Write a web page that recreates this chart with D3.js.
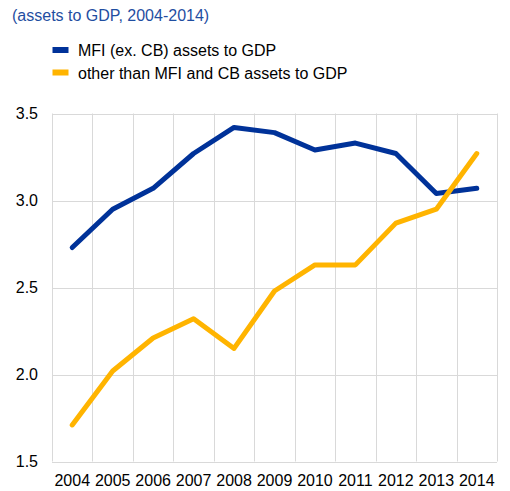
<!DOCTYPE html>
<html>
<head>
<meta charset="utf-8">
<script src="https://cdn.jsdelivr.net/npm/d3@7"></script>
<style>
  html, body { margin: 0; padding: 0; background: #fff; }
  svg { display: block; font-family: Arial, "Liberation Sans", sans-serif; }
</style>
</head>
<body>
<svg id="chart" width="510" height="491"></svg>
<script>
// Years on the x axis
const years = ["2004","2005","2006","2007","2008","2009","2010","2011","2012","2013","2014"];
// MFI (excluding central bank) assets to GDP
const mfiAssets = [2.73, 2.95, 3.07, 3.27, 3.42, 3.39, 3.29, 3.33, 3.27, 3.04, 3.07];
// Assets of sectors other than MFI and CB, relative to GDP
const otherAssets = [1.71, 2.02, 2.21, 2.32, 2.15, 2.48, 2.63, 2.63, 2.87, 2.95, 3.27];
// Y-axis ticks
const yTicks = [1.5, 2.0, 2.5, 3.0, 3.5];
const seriesNames = ["MFI (ex. CB) assets to GDP", "other than MFI and CB assets to GDP"];
const seriesColors = ["#003299", "#FFB400"];

const FONT = "Arial, 'Liberation Sans', sans-serif";
const svg = d3.select("#chart");
const plot = { left: 52, right: 497, top: 113.5, bottom: 461.5 };

const x = d3.scaleBand().domain(years).range([plot.left, plot.right]).padding(0);
const y = d3.scaleLinear().domain([1.5, 3.5]).range([plot.bottom, plot.top]);

// Title
svg.append("text")
  .attr("x", 12).attr("y", 21)
  .attr("font-size", 16).attr("fill", "#1f4ea1")
  .text("(assets to GDP, 2004-2014)");

// Legend
seriesNames.forEach((name, i) => {
  const ly = 50 + i * 22.5;
  svg.append("rect")
    .attr("x", 52.5).attr("y", ly - 3).attr("width", 16).attr("height", 6)
    .attr("fill", seriesColors[i]);
  svg.append("text")
    .attr("x", 78).attr("y", ly + 6)
    .attr("font-size", 16).attr("fill", "#000")
    .text(name);
});

// Grid: horizontal lines at each tick
const grid = svg.append("g").attr("stroke", "#d9d9d9").attr("stroke-width", 1);
yTicks.forEach(t => {
  grid.append("line")
    .attr("x1", plot.left).attr("x2", plot.right)
    .attr("y1", Math.round(y(t)) + 0.5).attr("y2", Math.round(y(t)) + 0.5);
});
// Vertical lines at the category boundaries
const bounds = years.map(d => x(d)).concat([x(years[years.length - 1]) + x.bandwidth()]);
bounds.forEach(bx => {
  grid.append("line")
    .attr("x1", Math.round(bx) + 0.5).attr("x2", Math.round(bx) + 0.5)
    .attr("y1", plot.top).attr("y2", plot.bottom);
});

// Y axis labels
const yAxis = d3.axisLeft(y).tickValues(yTicks).tickFormat(d3.format(".1f")).tickSize(0).tickPadding(14);
const gy = svg.append("g").attr("transform", `translate(${plot.left},0)`).call(yAxis);
gy.select(".domain").remove();
gy.selectAll("text").attr("font-size", 16).attr("fill", "#000").attr("font-family", FONT);

// X axis labels
const xAxis = d3.axisBottom(x).tickSize(0).tickPadding(13);
const gx = svg.append("g").attr("transform", `translate(0,${plot.bottom})`).call(xAxis);
gx.select(".domain").remove();
gx.selectAll("text").attr("font-size", 16).attr("fill", "#000").attr("font-family", FONT);

// Lines
const line = d3.line()
  .x((d, i) => x(years[i]) + x.bandwidth() / 2)
  .y(d => y(d));

[mfiAssets, otherAssets].forEach((vals, i) => {
  svg.append("path")
    .datum(vals)
    .attr("fill", "none")
    .attr("stroke", seriesColors[i])
    .attr("stroke-width", 5)
    .attr("stroke-linejoin", "round")
    .attr("stroke-linecap", "round")
    .attr("d", line);
});
</script>
</body>
</html>
